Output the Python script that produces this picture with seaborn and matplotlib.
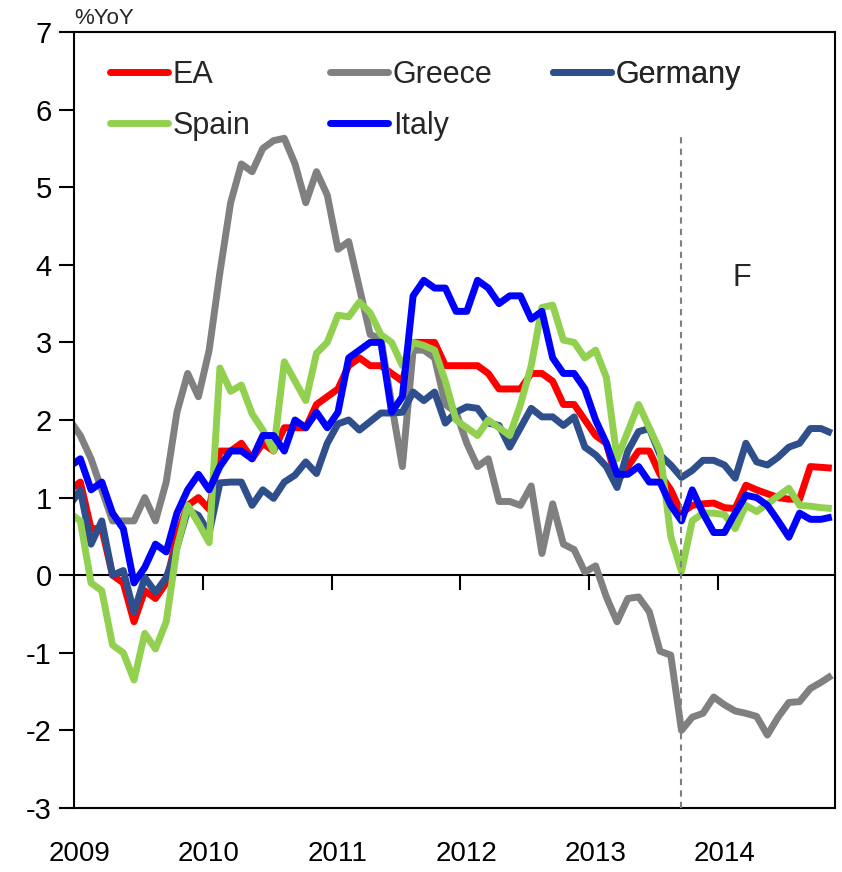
import numpy as np
import pandas as pd
import matplotlib
matplotlib.use("Agg")
import matplotlib.pyplot as plt
import matplotlib.transforms as mtransforms
import seaborn as sns
from matplotlib.lines import Line2D

# ---------------- data (monthly, Jan 2009 - Dec 2014, %YoY) ----------------
year_labels = ["2009", "2010", "2011", "2012", "2013", "2014"]
series_names = ["EA", "Greece", "Germany", "Spain", "Italy"]

ea = [1.1, 1.2, 0.6, 0.6, 0.0, -0.1, -0.6, -0.2, -0.3, -0.1, 0.5, 0.9,
      1.0, 0.85, 1.6, 1.6, 1.7, 1.5, 1.7, 1.6, 1.9, 1.9, 1.9, 2.2,
      2.3, 2.4, 2.7, 2.8, 2.7, 2.7, 2.6, 2.5, 3.0, 3.0, 3.0, 2.7,
      2.7, 2.7, 2.7, 2.6, 2.4, 2.4, 2.4, 2.6, 2.6, 2.5, 2.2, 2.2,
      2.0, 1.8, 1.7, 1.2, 1.4, 1.6, 1.6, 1.3, 1.1, 0.8, 0.9, 0.92,
      0.93, 0.87, 0.86, 1.16, 1.1, 1.05, 1.0, 0.98, 0.98, 1.4, 1.39, 1.38]

greece = [2.0, 1.8, 1.5, 1.1, 0.7, 0.7, 0.7, 1.0, 0.7, 1.2, 2.1, 2.6,
          2.3, 2.9, 3.9, 4.8, 5.3, 5.2, 5.5, 5.6, 5.63, 5.3, 4.8, 5.2,
          4.9, 4.2, 4.3, 3.7, 3.1, 3.05, 2.2, 1.4, 2.9, 2.9, 2.8, 2.2,
          2.1, 1.7, 1.4, 1.5, 0.95, 0.95, 0.9, 1.15, 0.28, 0.92, 0.4, 0.33,
          0.04, 0.12, -0.28, -0.6, -0.3, -0.28, -0.47, -0.98, -1.03, -2.0, -1.83, -1.78,
          -1.57, -1.67, -1.75, -1.78, -1.82, -2.06, -1.83, -1.64, -1.63, -1.46, -1.38, -1.29]

germany = [0.9, 1.1, 0.4, 0.7, 0.0, 0.06, -0.48, -0.03, -0.22, -0.03, 0.36, 0.84,
           0.77, 0.54, 1.19, 1.2, 1.2, 0.9, 1.1, 0.99, 1.2, 1.29, 1.46, 1.31,
           1.7, 1.95, 2.0, 1.87, 1.98, 2.09, 2.09, 2.1, 2.36, 2.25, 2.36, 1.96,
           2.1, 2.17, 2.15, 1.96, 1.93, 1.65, 1.9, 2.15, 2.04, 2.04, 1.93, 2.04,
           1.65, 1.55, 1.4, 1.13, 1.6, 1.85, 1.89, 1.55, 1.42, 1.26, 1.35, 1.48,
           1.48, 1.42, 1.25, 1.7, 1.46, 1.42, 1.52, 1.65, 1.7, 1.89, 1.89, 1.83]

spain = [0.8, 0.7, -0.1, -0.2, -0.9, -1.0, -1.35, -0.75, -0.95, -0.6, 0.35, 0.9,
         0.67, 0.42, 2.67, 2.37, 2.45, 2.08, 1.87, 1.6, 2.75, 2.5, 2.25, 2.86,
         3.0, 3.35, 3.33, 3.52, 3.38, 3.1, 3.0, 2.7, 3.0, 2.96, 2.9, 2.5,
         2.0, 1.9, 1.8, 2.0, 1.9, 1.8, 2.2, 2.7, 3.45, 3.48, 3.03, 3.0,
         2.8, 2.9, 2.55, 1.5, 1.85, 2.2, 1.9, 1.6, 0.5, 0.05, 0.7, 0.8,
         0.8, 0.78, 0.6, 0.9, 0.82, 0.92, 1.02, 1.12, 0.9, 0.89, 0.87, 0.86]

italy = [1.4, 1.5, 1.1, 1.2, 0.8, 0.6, -0.1, 0.1, 0.4, 0.3, 0.8, 1.1,
         1.3, 1.1, 1.4, 1.6, 1.6, 1.5, 1.8, 1.8, 1.6, 2.0, 1.9, 2.1,
         1.9, 2.1, 2.8, 2.9, 3.0, 3.0, 2.1, 2.3, 3.6, 3.8, 3.7, 3.7,
         3.4, 3.4, 3.8, 3.7, 3.5, 3.6, 3.6, 3.3, 3.4, 2.8, 2.6, 2.6,
         2.4, 2.0, 1.7, 1.3, 1.3, 1.4, 1.2, 1.2, 0.9, 0.7, 1.1, 0.8,
         0.55, 0.55, 0.8, 1.03, 1.0, 0.9, 0.7, 0.49, 0.8, 0.72, 0.72, 0.75]

forecast_start = 57          # Oct 2013: last actual observation
forecast_label = "F"

colors = {"EA": "#FF0000", "Greece": "#808080", "Germany": "#2F4F8C",
          "Spain": "#92D050", "Italy": "#0000FF"}

values = {"EA": ea, "Greece": greece, "Germany": germany, "Spain": spain, "Italy": italy}
n = len(ea)
months = np.arange(n)
df = pd.DataFrame({
    "month": np.tile(months, len(series_names)),
    "value": np.concatenate([values[s] for s in series_names]),
    "series": np.repeat(series_names, n),
})

# ---------------- style ----------------
sns.set_theme(style="white")
plt.rcParams["font.family"] = ["Liberation Sans", "DejaVu Sans"]
plt.rcParams["axes.unicode_minus"] = False

fig = plt.figure(figsize=(8.42, 8.72), dpi=100)
ax = fig.add_axes([74 / 842, 1 - 808 / 872, (835 - 74) / 842, (808 - 32) / 872])

sns.lineplot(data=df, x="month", y="value", hue="series", hue_order=series_names,
             palette=colors, linewidth=5, ax=ax, legend=False, sort=False,
             estimator=None)
for ln in ax.lines:
    ln.set_solid_joinstyle("round")
    ln.set_solid_capstyle("butt")

x0 = 0.41
ax.set_xlim(x0, 71.3)
ax.set_ylim(-3, 7)
ax.set_yticks(range(-3, 8))
xt = [x0 + 12 * k for k in range(len(year_labels))]
ax.set_xticks(xt)
ax.set_xticklabels(year_labels)
ax.set_xlabel("")
ax.set_ylabel("")
ax.tick_params(axis="x", length=0, pad=24, labelsize=20, colors="black")
ax.tick_params(axis="y", left=True, direction="out", length=11, width=1.5,
               pad=5, labelsize=21, colors="black")
shift = mtransforms.ScaledTranslation(6 / 100, 0, fig.dpi_scale_trans)
for lbl in ax.get_xticklabels():
    lbl.set_transform(lbl.get_transform() + shift)
for sp in ax.spines.values():
    sp.set_color("black")
    sp.set_linewidth(1.5)

# zero line with year tick marks
sec = ax.secondary_xaxis(0.3)
sec.set_xticks(xt)
sec.tick_params(direction="out", length=11, width=1.5, labelbottom=False,
                labeltop=False, colors="black")
for sp in sec.spines.values():
    sp.set_color("black")
    sp.set_linewidth(1.5)

# forecast divider
ax.axvline(forecast_start, ymin=0, ymax=0.87, color="#808080", lw=1.5,
           ls=(0, (3, 2.5)), zorder=6)
ax.text(62.6, 3.83, forecast_label, fontsize=22, ha="center", va="center")
ax.text(0.0, 1.004, "%YoY", transform=ax.transAxes, ha="left", va="bottom",
        fontsize=16)

# legend: three columns placed like the original
def make_legend(names, xpos):
    handles = [Line2D([0], [0], color=colors[s], lw=5, solid_capstyle="round")
               for s in names]
    lg = ax.legend(handles, names, loc="upper left", bbox_to_anchor=(xpos, 0.964),
                   frameon=False, fontsize=22, handlelength=1.9,
                   handletextpad=0.15, labelspacing=0.68, borderpad=0,
                   borderaxespad=0)
    ax.add_artist(lg)

make_legend(["EA", "Spain"], (110 - 74) / 761)
make_legend(["Greece", "Italy"], (330 - 74) / 761)
make_legend(["Germany"], (553 - 74) / 761)

fig.savefig("out.png", dpi=100)
